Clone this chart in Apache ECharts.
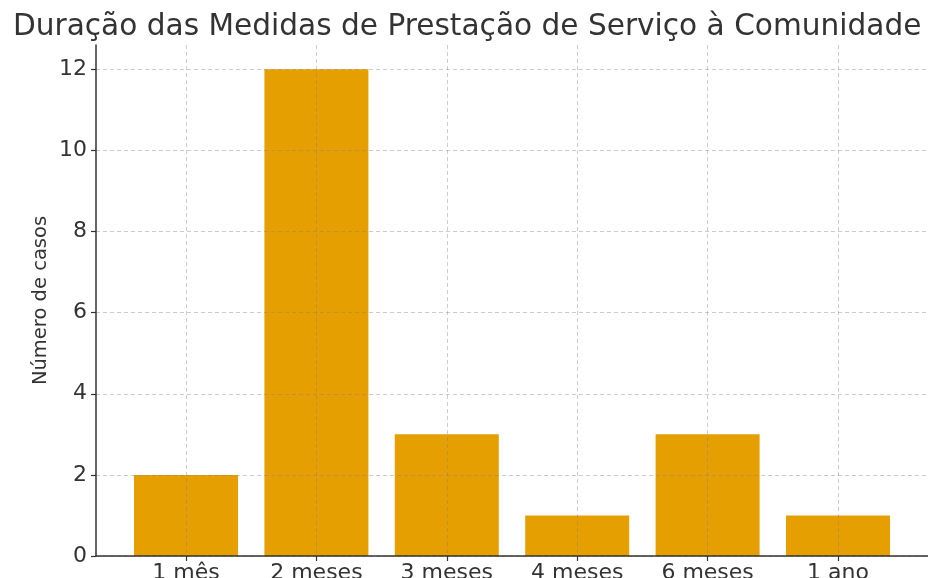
<!DOCTYPE html>
<html>
<head>
<meta charset="utf-8">
<script src="https://cdn.jsdelivr.net/npm/echarts@6/dist/echarts.min.js"></script>
<style>
  html, body { margin: 0; padding: 0; background: #fff; }
  #chart { width: 928px; height: 578px; }
</style>
</head>
<body>
<div id="chart"></div>
<script>
const categories = ["1 mês", "2 meses", "3 meses", "4 meses", "6 meses", "1 ano"];
const casos = [2, 12, 3, 1, 3, 1];
const yTicks = [0, 2, 4, 6, 8, 10, 12];

const gridColor = "rgba(128,128,128,0.4)";
const inkColor = "#333";
const barColor = "#E69F00";

const positions = categories.map((c, i) => i);

const chart = echarts.init(document.getElementById("chart"), null, { renderer: "canvas" });

chart.setOption({
  animation: false,
  title: {
    text: "Duração das Medidas de Prestação de Serviço à Comunidade",
    left: 8,
    top: 7,
    textStyle: {
      fontFamily: "DejaVu Sans",
      fontSize: 29.6,
      fontWeight: "normal",
      color: inkColor
    }
  },
  grid: {
    left: 96,
    right: 0,
    top: 45,
    bottom: 22,
    containLabel: false,
    outerBoundsMode: "none"
  },
  xAxis: {
    type: "value",
    min: -0.69,
    max: 5.69,
    z: 3,
    axisLine: { show: true, onZero: false, lineStyle: { color: inkColor, width: 1.5 } },
    axisTick: { show: true, length: 5, customValues: positions, lineStyle: { color: inkColor, width: 1.2 } },
    axisLabel: {
      customValues: positions,
      formatter: (v) => categories[Math.round(v)] || "",
      fontFamily: "DejaVu Sans",
      fontSize: 22,
      color: inkColor,
      margin: 6
    },
    splitLine: { show: true, lineStyle: { color: gridColor, type: [4, 3], width: 1 } }
  },
  yAxis: {
    type: "value",
    min: 0,
    max: 12.6,
    z: 3,
    name: "Número de casos",
    nameLocation: "middle",
    nameRotate: 90,
    nameGap: 45,
    nameMoveOverlap: false,
    nameTextStyle: { fontFamily: "DejaVu Sans", fontSize: 19.5, color: inkColor },
    axisLine: { show: true, onZero: false, lineStyle: { color: inkColor, width: 1.5 } },
    axisTick: { show: true, length: 5, customValues: yTicks, lineStyle: { color: inkColor, width: 1.2 } },
    axisLabel: {
      customValues: yTicks,
      fontFamily: "DejaVu Sans",
      fontSize: 22,
      color: inkColor,
      margin: 9
    },
    splitLine: { show: true, lineStyle: { color: gridColor, type: [4, 3], width: 1 } }
  },
  series: [{
    type: "bar",
    data: casos.map((v, i) => [positions[i], v]),
    barWidth: 104,
    itemStyle: { color: barColor },
    z: 2
  }]
});
</script>
</body>
</html>
